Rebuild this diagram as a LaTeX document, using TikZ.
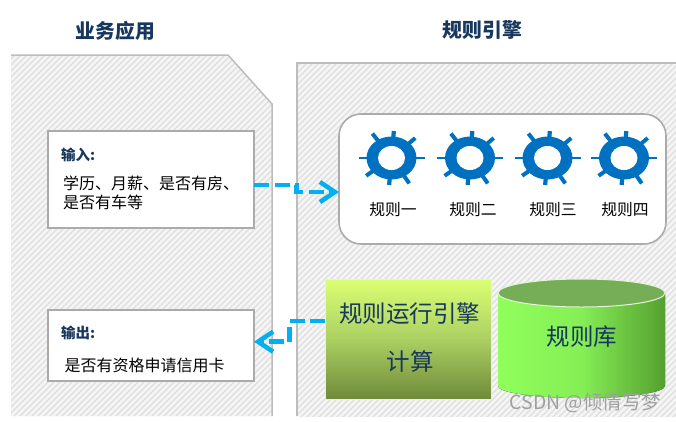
\documentclass[tikz,border=0pt]{standalone}
\usepackage{fontspec}
\setmainfont{Noto Sans CJK SC}
\usetikzlibrary{arrows.meta,calc}
\definecolor{navy}{HTML}{17375E}
\definecolor{edgegray}{HTML}{BDBDBD}
\definecolor{boxgray}{HTML}{ABABAB}
\definecolor{flow}{HTML}{00B0F0}
\definecolor{gearblue}{HTML}{0070C0}
\definecolor{hatchbg}{HTML}{F6F6F6}
\definecolor{hatchln}{HTML}{E2E2E2}
\definecolor{engtop}{HTML}{DBFF73}
\definecolor{engmid}{HTML}{ABD062}
\definecolor{engbot}{HTML}{6F8A3A}
\definecolor{cylleft}{HTML}{90FF5C}
\definecolor{cylmid}{HTML}{85EE55}
\definecolor{cylright}{HTML}{55A030}
\definecolor{cyltop}{HTML}{76AE58}
\definecolor{cyledge}{HTML}{E8F2DC}
\newcommand{\fsz}[1]{\fontsize{#1}{#1}\selectfont}
\tikzset{
  titletext/.style={font=\fsz{19.8}\bfseries,text=navy,inner sep=0pt},
  whitebox/.style={draw=boxgray,line width=1.6pt,fill=white,inner sep=0pt,outer sep=0pt},
  boxhead/.style={font=\fsz{14.5}\bfseries,text=navy,anchor=west,inner sep=0pt},
  boxline/.style={font=\fsz{16},text=black,anchor=west,inner sep=0pt},
  rulelabel/.style={font=\fsz{15.8},text=black,inner sep=0pt},
  biglabel/.style={font=\fsz{23.5},text=navy,inner sep=0pt},
  flowline/.style={draw=flow,line width=4.5pt,dash pattern=on 15pt off 5.5pt,
    -{Straight Barb[length=15pt,width=20pt,line width=4.5pt]}},
  rulegear/.pic={
    \foreach \a/\r/\w in {40/31/4,85/27/4.2,128/31/4,180/33/2.6,0/33/2.6,215/31/4,265/27/4.2,305/31/4}{
      \draw[gearblue,line width=\w pt] (0pt,0pt) -- (\a:\r pt);
    }
    \fill[gearblue] (0pt,0pt) ellipse [x radius=25pt,y radius=21.5pt];
    \fill[white] (0pt,0pt) ellipse [x radius=13.5pt,y radius=12pt];
  }
}
\begin{document}
\begin{tikzpicture}[x=1pt,y=-1pt]
\useasboundingbox (0,0) rectangle (676,421);
\fill[white] (0,0) rectangle (676,421);

% left panel
\begin{scope}
  \clip (11,55) -- (228,55) -- (272,104) -- (272,416) -- (11,416) -- cycle;
  \fill[hatchbg] (0,0) rectangle (300,421);
  \foreach \k in {0,6,...,720}{
    \draw[hatchln,line width=1.7pt] (\k-400,440) -- (\k,40);
  }
\end{scope}
\draw[edgegray,line width=1.5pt] (11,55) -- (228,55) -- (272,104) -- (272,416);

% right panel
\begin{scope}
  \clip (297,63) rectangle (676,416);
  \fill[hatchbg] (290,50) rectangle (676,421);
  \foreach \k in {300,306,...,1100}{
    \draw[hatchln,line width=1.7pt] (\k-400,440) -- (\k,40);
  }
\end{scope}
\draw[edgegray,line width=1.5pt] (297,416) -- (297,63) -- (676,63);

% titles
\node[titletext] (appTitle) at (115.5,30.5) {业务应用};
\node[titletext] (engineTitle) at (482.5,29.5) {规则引擎};

% input box
\node[whitebox,minimum width=206pt,minimum height=97pt] (inbox) at (151,179.5) {};
\node[boxhead] (inhead) at (61,155) {输入:};
\node[boxline] (inl1) at (63,183) {学历、月薪、是否有房、};
\node[boxline] (inl2) at (63,202) {是否有车等};

% output box
\node[whitebox,minimum width=206pt,minimum height=71pt] (outbox) at (151,345.5) {};
\node[boxhead] (outhead) at (61,333) {输出:};
\node[boxline] (outl1) at (64.5,365) {是否有资格申请信用卡};

% rules box
\node[whitebox,rounded corners=22pt,minimum width=327pt,minimum height=130pt] (rules) at (502.5,179) {};
\path (391.5,158) pic {rulegear};
\path (470,158) pic {rulegear};
\path (547.5,158) pic {rulegear};
\path (624,158) pic {rulegear};
\node[rulelabel] (r1) at (393,210) {规则一};
\node[rulelabel] (r2) at (473,210) {规则二};
\node[rulelabel] (r3) at (553,210) {规则三};
\node[rulelabel] (r4) at (625,210) {规则四};

% engine box
\node[draw=white!85!gray,line width=0.8pt,inner sep=0pt,outer sep=0pt,minimum width=166pt,minimum height=120pt,
  top color=engtop,bottom color=engbot,middle color=engmid] (engine) at (408,339) {};
\node[biglabel] (e1) at (409.5,314) {规则运行引擎};
\node[biglabel] (e2) at (410,362) {计算};

% cylinder
\fill[left color=cylleft,right color=cylright,middle color=cylmid]
  (498,293) -- (498,386) arc[start angle=180,end angle=360,x radius=83.5pt,y radius=12pt] -- (665,293) -- cycle;
\draw[draw=cyledge,line width=1pt,fill=cyltop] (581.5,293) ellipse[x radius=83.5pt,y radius=14pt];
\node[biglabel] (lib) at (582,337) {规则库};

% connectors
\draw[flowline] ([yshift=-5.5pt]inbox.east) -| ($([yshift=-5.5pt]inbox.east)!.5!([yshift=-13pt]rules.west)$) |- ([yshift=-13pt]rules.west);
\draw[flowline] ([yshift=18pt]engine.west) -| ($([yshift=18pt]engine.west)!.5!([yshift=3.8pt]outbox.east)$) |- ([yshift=3.8pt]outbox.east);

% watermark
\node[font=\fsz{19.4},text=gray!75,inner sep=0pt,anchor=east] (mark) at (661,403) {CSDN @倾情写梦};
\end{tikzpicture}
\end{document}
